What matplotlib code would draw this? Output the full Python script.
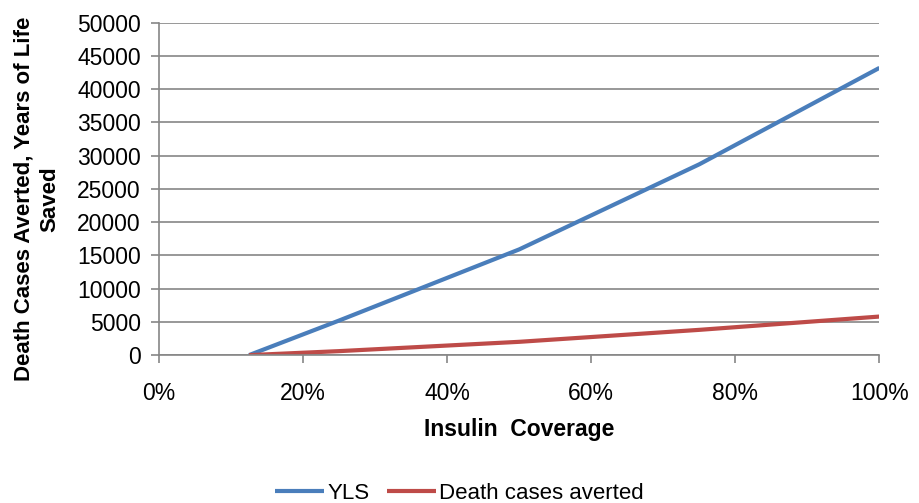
import numpy as np
import matplotlib.pyplot as plt

# Coverage points and outcomes
coverage = [0.125, 0.25, 0.50, 0.75, 1.00]
yls = [0, 5200, 15900, 28700, 43200]
deaths = [0, 600, 2000, 3800, 5800]

x_ticks = [0, 0.2, 0.4, 0.6, 0.8, 1.0]
x_tick_labels = ['0%', '20%', '40%', '60%', '80%', '100%']
y_ticks = list(range(0, 50001, 5000))

plt.rcParams['font.family'] = ['Liberation Sans', 'DejaVu Sans']

fig = plt.figure(figsize=(9.19, 5.03), dpi=100)
ax = fig.add_axes([0.173, 0.294, 0.784, 0.661])

ax.plot(coverage, yls, color='#4A7EBB', lw=3, label='YLS', solid_capstyle='butt')
ax.plot(coverage, deaths, color='#BE4B48', lw=3, label='Death cases averted', solid_capstyle='butt')

ax.set_xlim(0, 1)
ax.set_ylim(0, 50000)
ax.set_xticks(x_ticks)
ax.set_xticklabels(x_tick_labels)
ax.set_yticks(y_ticks)
ax.tick_params(labelsize=16.5, color='#868686', length=6, width=1.2)
ax.tick_params(axis='x', pad=13)
ax.tick_params(axis='y', pad=7)
ax.grid(axis='y', color='#868686', lw=1.2)
ax.set_axisbelow(True)
for s in ['top', 'right']:
    ax.spines[s].set_visible(False)
for s in ['left', 'bottom']:
    ax.spines[s].set_color('#868686')
    ax.spines[s].set_linewidth(1.2)

ax.set_xlabel('Insulin  Coverage', fontsize=16.5, fontweight='bold', labelpad=10)
ax.set_ylabel('Death Cases Averted, Years of Life\nSaved', fontsize=16,
              fontweight='bold', linespacing=1.3)
ax.yaxis.set_label_coords(-0.1375, 0.47)

fig.legend(loc='lower center', bbox_to_anchor=(0.5, -0.042), ncol=2, frameon=False,
           fontsize=16, handlelength=2.2, handletextpad=0.15, columnspacing=0.8)

fig.savefig('out.png', dpi=100)
